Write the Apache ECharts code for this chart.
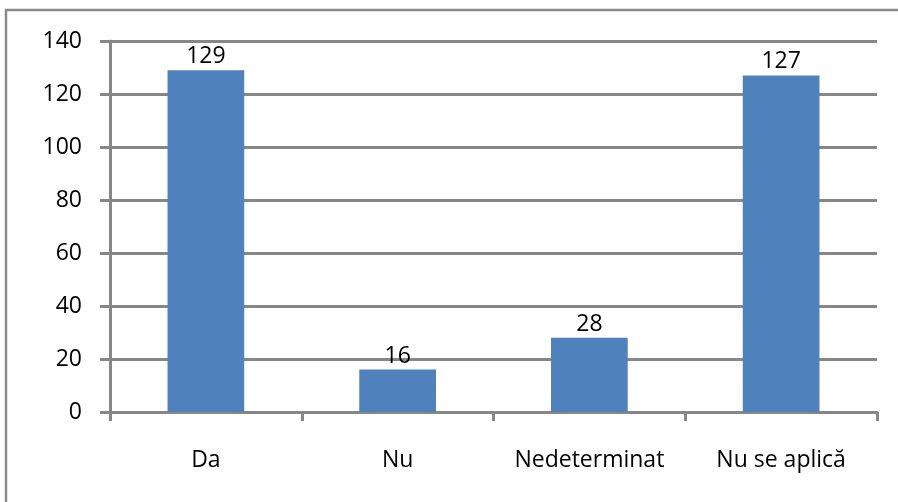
<!DOCTYPE html>
<html>
<head>
<meta charset="utf-8">
<script src="https://cdn.jsdelivr.net/npm/echarts@6/dist/echarts.min.js"></script>
<style>
  html, body { margin: 0; padding: 0; background: #fff; }
  #chart { width: 898px; height: 502px; }
</style>
</head>
<body>
<div id="chart"></div>
<script>
const categories = ['Da', 'Nu', 'Nedeterminat', 'Nu se aplică'];
const values = [129, 16, 28, 127];

const chart = echarts.init(document.getElementById('chart'));
const font = '"Open Sans", "Liberation Sans", sans-serif';

chart.setOption({
  animation: false,
  graphic: [{
    type: 'rect',
    shape: { x: 6, y: 10, width: 1000, height: 1000 },
    style: { fill: 'none', stroke: '#8a8a8a', lineWidth: 2.5 },
    silent: true
  }],
  grid: { left: 110, right: 21, top: 41, bottom: 90 },
  xAxis: {
    type: 'category',
    data: categories,
    axisLine: { lineStyle: { color: '#878787', width: 3 } },
    axisTick: { show: true, interval: 0, length: 9, lineStyle: { color: '#878787', width: 3 } },
    axisLabel: { interval: 0, hideOverlap: false, color: '#000', fontSize: 23, fontFamily: font, margin: 37 }
  },
  yAxis: {
    type: 'value',
    min: 0, max: 140, interval: 20,
    axisLine: { show: true, lineStyle: { color: '#878787', width: 3 } },
    axisTick: { show: true, length: 10, lineStyle: { color: '#878787', width: 3 } },
    axisLabel: { color: '#000', fontSize: 23, fontFamily: font, margin: 28 },
    splitLine: { lineStyle: { color: '#878787', width: 3 } }
  },
  series: [{
    type: 'bar',
    data: values,
    barWidth: '40%',
    itemStyle: { color: '#4f81bd' },
    label: { show: true, position: 'top', distance: 2, color: '#000', fontSize: 23, fontFamily: font }
  }]
});
</script>
</body>
</html>
